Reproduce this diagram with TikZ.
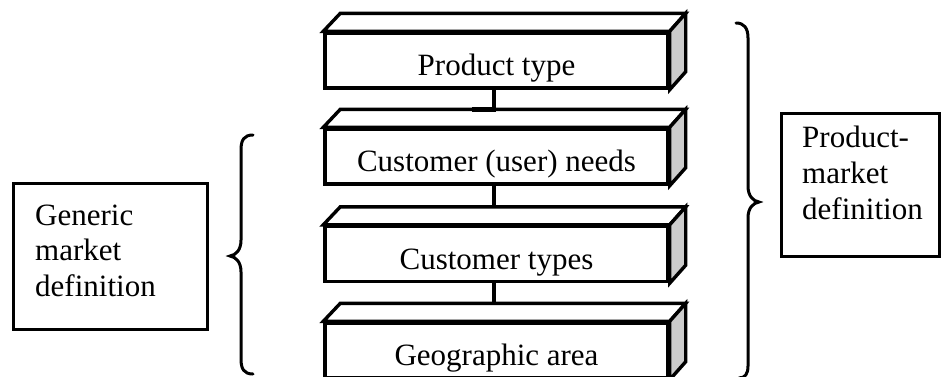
\documentclass[tikz,border=0pt]{standalone}
\usepackage{fontspec}
\setmainfont{Liberation Serif}
\usetikzlibrary{calc}
\begin{document}
\begin{tikzpicture}[x=1pt,y=-1pt,
  front/.style={draw,line width=3.4pt,fill=white,rectangle,inner sep=0pt,minimum width=343pt,minimum height=55pt},
  face/.style={draw,line width=3.4pt,line join=miter,fill=white},
  side/.style={draw,line width=3.4pt,line join=miter,fill=black!20},
  conn/.style={line width=3.4pt},
  brace/.style={line width=3pt,line cap=round},
  lbl/.style={font=\fontsize{31}{35}\selectfont,inner sep=0pt},
  txtbox/.style={draw,line width=3pt,rectangle,inner sep=0pt}]
\useasboundingbox (0,0) rectangle (941,376);
\clip (0,0) rectangle (941,376);
\fill[white] (0,0) rectangle (941,376);
% boxes
\foreach \n/\cy in {b1/60.5,b2/156.5,b3/254,b4/350.5}{
  \node[front] (\n) at (496.5,\cy) {};
  \draw[face] (\n.north west) -- ++(17,-18) -- ($(\n.north east)+(16,-18)$) -- (\n.north east) -- cycle;
  \draw[side] (\n.north east) -- ++(16,-18) -- ($(\n.south east)+(16,-18)$) -- (\n.south east) -- cycle;
}
% back-edge coordinates for connectors
\coordinate (k2) at ($(b2.north)+(0,-18)$);
\coordinate (k3) at ($(b3.north)+(0,-18)$);
\coordinate (k4) at ($(b4.north)+(0,-18)$);
\coordinate (c1) at ($(b1.south)+(-2.5,0)$);
\coordinate (c2) at ($(b2.south)+(-2.5,0)$);
\coordinate (c3) at ($(b3.south)+(-2.5,0)$);
\draw[conn] (c1) -- (c1 |- k2);
\draw[line width=4.5pt] ($(c1 |- k2)+(1.7,0)$) -- ++(-24,0);
\draw[conn] (c2) -- (c2 |- k3);
\draw[conn] (c3) -- (c3 |- k4);
% box texts
\node[lbl,anchor=base] (t1) at ($(b1.south)+(0,-14)$) {Product type};
\node[lbl,anchor=base] (t2) at ($(b2.south)+(0,-14)$) {Customer (user) needs};
\node[lbl,anchor=base] (t3) at ($(b3.south)+(0,-14)$) {Customer types};
\node[lbl,anchor=base] (t4) at ($(b4.south)+(0,-14)$) {Geographic area};
% side text boxes
\node[txtbox,minimum width=194pt,minimum height=146pt] (gm) at (110,256) {};
\node[lbl,anchor=base west] (gmt) at (35,225) {Generic};
\node[lbl,anchor=base west] (gmt2) at (35,260) {market};
\node[lbl,anchor=base west] (gmt3) at (35,296) {definition};
\node[txtbox,minimum width=158pt,minimum height=143pt] (pm) at (860,184.5) {};
\node[lbl,anchor=base west] (pmt) at (802,147) {Product-};
\node[lbl,anchor=base west] (pmt2) at (802,183) {market};
\node[lbl,anchor=base west] (pmt3) at (802,219) {definition};
% left brace
\coordinate (lb1) at (253,135);
\coordinate (lbt) at (230,256);
\coordinate (lb2) at (253,374);
\draw[brace] (lb1) .. controls (244,135) and (241,140) .. (241,150)
  -- (241,240) .. controls (241,250) and (236,255) .. (lbt)
  .. controls (236,257) and (241,262) .. (241,272)
  -- (241,359) .. controls (241,369) and (244,374) .. (lb2);
% right brace
\coordinate (rb1) at (736,23);
\coordinate (rbt) at (759,202);
\coordinate (rb2) at (739,378);
\draw[brace] (rb1) .. controls (744,23) and (748,28) .. (748,38)
  -- (748,186) .. controls (748,196) and (753,201) .. (rbt)
  .. controls (753,203) and (748,208) .. (748,218)
  -- (748,366) .. controls (748,374) and (745,378) .. (rb2);
\end{tikzpicture}
\end{document}
